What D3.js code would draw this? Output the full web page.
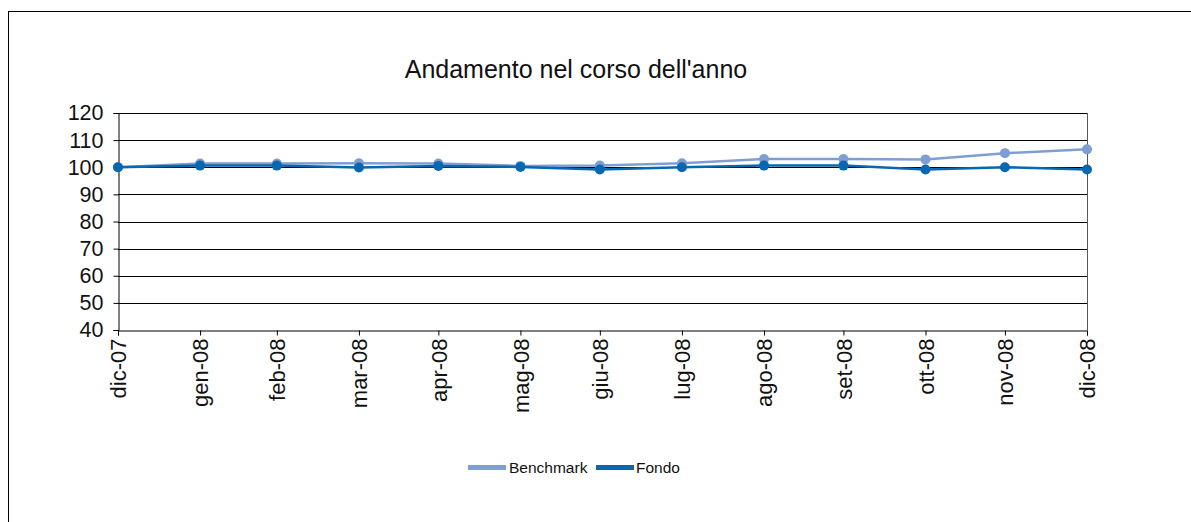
<!DOCTYPE html>
<html><head><meta charset="utf-8">
<script src="https://cdn.jsdelivr.net/npm/d3@7"></script>
<style>body{margin:0;background:#fff}svg{display:block}text{font-family:"Liberation Sans",Arial,sans-serif}</style>
</head><body><svg id="c" width="1191" height="522"></svg>
<script>
const categories = ["dic-07","gen-08","feb-08","mar-08","apr-08","mag-08","giu-08","lug-08","ago-08","set-08","ott-08","nov-08","dic-08"];
const dates = ["2007-12-31","2008-01-31","2008-02-29","2008-03-31","2008-04-30","2008-05-31","2008-06-30","2008-07-31","2008-08-31","2008-09-30","2008-10-31","2008-11-30","2008-12-31"];
const benchmark = [100,101.4,101.4,101.5,101.4,100.5,100.6,101.5,103.0,103.0,102.9,105.2,106.6];
const fondo = [100,100.6,100.6,99.9,100.5,100.1,99.2,100.0,100.6,100.6,99.2,100.0,99.2];
const yTicks = [40,50,60,70,80,90,100,110,120];

const svg = d3.select("#c");
const parse = d3.timeParse("%Y-%m-%d");
const D = dates.map(parse);
const L=118,R=1087,T=113,B=330;
const x = d3.scaleTime().domain([D[0],D[D.length-1]]).range([L,R]);
const y = d3.scaleLinear().domain([40,120]).range([B,T]);

// outer border
svg.append("rect").attr("x",8.5).attr("y",11.5).attr("width",1200).attr("height",600)
  .attr("fill","none").attr("stroke","#000").attr("stroke-width",1);

svg.append("text").attr("x",576).attr("y",78).attr("text-anchor","middle")
  .attr("font-size",25).attr("fill","#111").text("Andamento nel corso dell'anno");

// gridlines
svg.append("g").selectAll("line").data(yTicks.filter(d=>d>40)).join("line")
  .attr("x1",L).attr("x2",R).attr("y1",d=>Math.round(y(d))+0.5).attr("y2",d=>Math.round(y(d))+0.5)
  .attr("stroke","#000").attr("stroke-width",1);
svg.append("line").attr("x1",R+0.5).attr("x2",R+0.5).attr("y1",T).attr("y2",B).attr("stroke","#555");

// y axis
const ya = svg.append("g").attr("transform",`translate(${L+0.5},0)`)
  .call(d3.axisLeft(y).tickValues(yTicks).tickSize(5).tickPadding(10).tickFormat(d3.format("d")));
ya.select(".domain").attr("stroke","#000");
ya.selectAll("text").attr("font-size",21.5).attr("fill","#111").attr("font-family","Liberation Sans, Arial, sans-serif");

// x axis
const xa = svg.append("g").attr("transform",`translate(0,${Math.round(B)+0.5})`)
  .call(d3.axisBottom(x).tickValues(D).tickSize(5).tickFormat((d,i)=>categories[i]));
xa.select(".domain").attr("stroke","#000");
xa.selectAll("text").attr("font-size",22).attr("fill","#111").attr("font-family","Liberation Sans, Arial, sans-serif")
  .attr("transform","rotate(-90)").attr("text-anchor","end").attr("dx","-8").attr("dy","0.35em").attr("x",0).attr("y",0);

const series = [{name:"Benchmark",vals:benchmark,color:"#7f9fd2"},{name:"Fondo",vals:fondo,color:"#0867b1"}];
const line = d3.line().x((d,i)=>x(D[i])).y(d=>y(d));
series.forEach(s=>{
  svg.append("path").datum(s.vals).attr("d",line).attr("fill","none").attr("stroke",s.color).attr("stroke-width",2.5);
  svg.append("g").selectAll("circle").data(s.vals).join("circle")
    .attr("cx",(d,i)=>x(D[i])).attr("cy",d=>y(d)).attr("r",5).attr("fill",s.color);
});

// legend
const lg = [{x:468,tx:509},{x:596,tx:636}];
series.forEach((s,i)=>{
  svg.append("line").attr("x1",lg[i].x).attr("x2",lg[i].x+38).attr("y1",467.5).attr("y2",467.5)
    .attr("stroke",s.color).attr("stroke-width",5);
  svg.append("text").attr("x",lg[i].tx).attr("y",473).attr("font-size",15.5).attr("fill","#111").text(s.name);
});
</script></body></html>
